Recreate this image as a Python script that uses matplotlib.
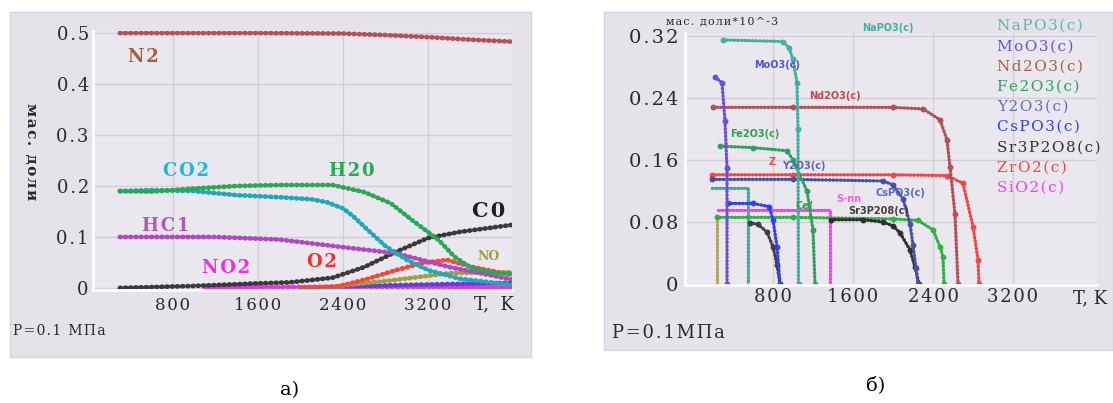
import matplotlib
matplotlib.use("Agg")
import matplotlib.pyplot as plt
from matplotlib.patches import Rectangle

# ---- panel a) : gas phase, mass fractions ----
t_n2 = [300, 800, 1600, 2400, 2800, 3200, 3600, 4000]
n2 = [0.5, 0.5, 0.5, 0.499, 0.496, 0.492, 0.487, 0.483]
t_co2 = [300, 600, 1000, 1400, 1800, 2100, 2250, 2400, 2500, 2600, 2800, 3000, 3200, 3500, 4000]
co2 = [0.19, 0.192, 0.19, 0.182, 0.178, 0.174, 0.168, 0.156, 0.14, 0.12, 0.082, 0.055, 0.035, 0.018, 0.006]
t_h2o = [300, 600, 1000, 1400, 1800, 2300, 2600, 2850, 3050, 3300, 3450, 3600, 3800, 4000]
h2o = [0.19, 0.189, 0.195, 0.2, 0.202, 0.202, 0.188, 0.166, 0.133, 0.094, 0.061, 0.04, 0.03, 0.028]
t_hcl = [300, 1200, 1800, 2400, 2900, 3400, 4000]
hcl = [0.1, 0.1, 0.095, 0.08, 0.068, 0.041, 0.016]
t_co = [300, 1000, 1600, 1900, 2300, 2600, 2900, 3200, 3500, 4000]
co = [0.0, 0.004, 0.009, 0.011, 0.02, 0.041, 0.071, 0.098, 0.11, 0.124]
t_o2 = [2000, 2350, 2600, 2900, 3150, 3380, 3620, 4000]
o2 = [0.0, 0.003, 0.016, 0.035, 0.049, 0.055, 0.041, 0.025]
t_no = [2200, 2450, 2900, 3400, 4000]
no = [0.0, 0.006, 0.016, 0.029, 0.031]
t_no2 = [1100, 2000, 3000, 4000]
no2 = [0.001, 0.002, 0.002, 0.001]
t_extra = [2400, 3000, 3500, 4000]
extra = [0.003, 0.006, 0.008, 0.01]

left_yticks = [0, 0.1, 0.2, 0.3, 0.4, 0.5]
left_ylabels = ["0", "0.1", "0.2", "0.3", "0.4", "0.5"]
xticks = [800, 1600, 2400, 3200]
xlabels = ["800", "1600", "2400", "3200"]

# ---- panel б) : condensed phases, mass fractions * 10^-3 ----
t_napo3 = [300, 900, 960, 1000, 1040, 1050, 1055]
napo3 = [0.315, 0.313, 0.305, 0.29, 0.26, 0.2, 0.0]
t_moo3 = [220, 290, 320, 340, 340]
moo3 = [0.267, 0.26, 0.21, 0.15, 0.0]
t_nd2o3 = [200, 1000, 2000, 2300, 2470, 2540, 2570, 2620, 2650]
nd2o3 = [0.228, 0.228, 0.228, 0.226, 0.212, 0.186, 0.151, 0.09, 0.0]
t_fe2o3 = [270, 600, 940, 1000, 1140, 1200, 1220]
fe2o3 = [0.178, 0.176, 0.172, 0.16, 0.12, 0.07, 0.0]
t_y2o3 = [190, 1000, 1900, 2000, 2100, 2170, 2200, 2230, 2250]
y2o3 = [0.135, 0.135, 0.133, 0.128, 0.11, 0.078, 0.05, 0.02, 0.0]
t_cspo3 = [350, 600, 760, 800, 840, 870]
cspo3 = [0.104, 0.104, 0.1, 0.083, 0.048, 0.0]
t_sr = [1380, 1700, 1900, 2000, 2070, 2170, 2220, 2260]
sr3p2o8 = [0.083, 0.083, 0.08, 0.075, 0.066, 0.044, 0.022, 0.0]
t_zro2 = [190, 1000, 2000, 2540, 2700, 2800, 2850, 2860]
zro2 = [0.141, 0.141, 0.141, 0.14, 0.13, 0.074, 0.031, 0.0]
t_sio2 = [250, 800, 1370, 1370]
sio2 = [0.095, 0.095, 0.095, 0.0]
t_green2 = [240, 1000, 2000, 2250, 2400, 2470, 2500, 2510]
green2 = [0.086, 0.086, 0.084, 0.082, 0.07, 0.048, 0.035, 0.0]
t_grey2 = [570, 650, 740, 800, 840, 870]
grey2 = [0.079, 0.077, 0.067, 0.048, 0.025, 0.0]
t_teal2 = [190, 400, 550, 550]
teal2 = [0.124, 0.124, 0.124, 0.0]
t_olive = [240, 240]
olive = [0.086, 0.0]

right_yticks = [0, 0.08, 0.16, 0.24, 0.32]
right_ylabels = ["0", "0.08", "0.16", "0.24", "0.32"]
legend_names = ["NaPO3(c)", "MoO3(c)", "Nd2O3(c)", "Fe2O3(c)", "Y2O3(c)",
                "CsPO3(c)", "Sr3P2O8(c)", "ZrO2(c)", "SiO2(c)"]
legend_colors = ["#5ab8b0", "#6a50d8", "#a0604a", "#30a060", "#6070b8",
                 "#3040f0", "#303030", "#f04848", "#f040f0"]

W, H = 1113, 403
BG = "#e6e2ea"
SERIF = "DejaVu Serif"
TS = "\u200a"


def sp(s):
    return TS.join(s)


fig = plt.figure(figsize=(W / 100, H / 100), dpi=100)
fig.patch.set_facecolor("white")

# grey frames around both panels
fig.patches.append(Rectangle((10 / W, 1 - 357 / H), (531 - 10) / W, (357 - 12) / H,
                             transform=fig.transFigure, facecolor=BG, edgecolor="#d8d4dc", zorder=-10))
fig.patches.append(Rectangle((604 / W, 1 - 350 / H), (W - 604) / W, (350 - 12) / H,
                             transform=fig.transFigure, facecolor=BG, edgecolor="#d8d4dc", zorder=-10))


def style_axes(ax):
    ax.set_facecolor("#ebe7ee")
    for s in ["top", "right"]:
        ax.spines[s].set_visible(False)
    for s in ["left", "bottom"]:
        ax.spines[s].set_color("white")
        ax.spines[s].set_linewidth(2)
    ax.tick_params(length=0, colors="#2a2a2a")
    ax.grid(True, color="#d2ced6", lw=1)
    ax.set_axisbelow(True)


def bead(ax, x, y, c, lw=3.4, marker=None):
    ax.plot(x, y, color=c, lw=lw, linestyle=(0, (0.2, 0.9)), dash_capstyle="round",
            solid_capstyle="round")
    ax.plot(x, y, color=c, lw=lw * 0.45)
    if marker:
        ax.plot(x, y, "o", color=c, ms=3.2, lw=0)


# ---------- left panel ----------
ax1 = fig.add_axes([93 / W, 1 - 290 / H, (512 - 93) / W, (290 - 31) / H])
style_axes(ax1)
ax1.set_xlim(47, 3990)
ax1.set_ylim(-0.004, 0.504)
bead(ax1, t_no2, no2, "#f030e0")
bead(ax1, t_extra, extra, "#6040d0")
bead(ax1, t_no, no, "#a0a040")
bead(ax1, t_o2, o2, "#f04a3a")
bead(ax1, t_co, co, "#3a3a3a")
bead(ax1, t_hcl, hcl, "#b048c0")
bead(ax1, t_co2, co2, "#20a8b8")
bead(ax1, t_h2o, h2o, "#2aa855")
bead(ax1, t_n2, n2, "#b84e58")
ax1.set_yticks(left_yticks)
ax1.set_yticklabels([sp(s) for s in left_ylabels], fontfamily=SERIF, fontsize=13)
ax1.set_xticks(xticks)
ax1.set_xticklabels([sp(s) for s in xlabels], fontfamily=SERIF, fontsize=12)
ax1.tick_params(axis="y", pad=3)
ax1.tick_params(axis="x", pad=5)

lab = dict(fontfamily=SERIF, fontweight="bold", fontsize=13, ha="center", va="center")
fig.text(143 / W, 1 - 57 / H, sp("N2"), color="#a8603e", **lab)
fig.text(186 / W, 1 - 171 / H, sp("CO2"), color="#20b8d8", **lab)
fig.text(352 / W, 1 - 171 / H, sp("H20"), color="#2aa855", **lab)
fig.text(166 / W, 1 - 226 / H, sp("HC1"), color="#b058c0", **lab)
fig.text(226 / W, 1 - 268 / H, sp("NO2"), color="#f030e0", **lab)
fig.text(322 / W, 1 - 262 / H, sp("O2"), color="#f03030", **lab)
fig.text(489 / W, 1 - 211 / H, sp("C0"), color="#202020", fontfamily=SERIF,
         fontweight="bold", fontsize=15, ha="center", va="center")
fig.text(489 / W, 1 - 257 / H, "NO", color="#a0a040", fontfamily=SERIF,
         fontweight="bold", fontsize=9, ha="center", va="center")
fig.text(494 / W, 1 - 304 / H, "T,  K", color="#2a2a2a", fontfamily=SERIF,
         fontsize=13, ha="center", va="center")
fig.text(31 / W, 1 - 152 / H, sp("мас. доли"), color="#2a2a2a", fontfamily=SERIF,
         fontweight="bold", fontsize=11, rotation=-90, ha="center", va="center")
fig.text(13 / W, 1 - 331 / H, sp("P=0.1 МПа"), color="#2a2a2a", fontfamily=SERIF,
         fontsize=10, ha="left", va="center")
fig.text(290 / W, 1 - 390 / H, "а)", color="black", fontfamily=SERIF,
         fontsize=14, ha="center", va="center")

# ---------- right panel ----------
ax2 = fig.add_axes([685 / W, 1 - 285 / H, (1097 - 685) / W, (285 - 33) / H])
style_axes(ax2)
ax2.set_xlim(-80, 4040)
ax2.set_ylim(-0.0013, 0.324)
bead(ax2, t_olive, olive, "#b0a868", lw=2.4)
bead(ax2, t_teal2, teal2, "#40a8a0", lw=2.4)
bead(ax2, t_green2, green2, "#30b048", lw=2.4, marker=True)
bead(ax2, t_grey2, grey2, "#404040", lw=2.4, marker=True)
bead(ax2, t_sio2, sio2, legend_colors[8], lw=2.4)
bead(ax2, t_sr, sr3p2o8, legend_colors[6], lw=2.4, marker=True)
bead(ax2, t_cspo3, cspo3, legend_colors[5], lw=2.4, marker=True)
bead(ax2, t_zro2, zro2, legend_colors[7], lw=2.4, marker=True)
bead(ax2, t_y2o3, y2o3, "#4a50a0", lw=2.4, marker=True)
bead(ax2, t_fe2o3, fe2o3, legend_colors[3], lw=2.4, marker=True)
bead(ax2, t_nd2o3, nd2o3, "#b05058", lw=2.4, marker=True)
bead(ax2, t_moo3, moo3, legend_colors[1], lw=2.4, marker=True)
bead(ax2, t_napo3, napo3, "#40b0a0", lw=2.4, marker=True)
ax2.set_yticks(right_yticks)
ax2.set_yticklabels([sp(s) for s in right_ylabels], fontfamily=SERIF, fontsize=14)
ax2.set_xticks(xticks)
ax2.set_xticklabels([sp(s) for s in xlabels], fontfamily=SERIF, fontsize=13)
ax2.tick_params(axis="y", pad=5)
ax2.tick_params(axis="x", pad=2)

small = dict(fontfamily="DejaVu Sans", fontweight="bold", fontsize=7, ha="left", va="center")
fig.text(862 / W, 1 - 28 / H, "NaPO3(c)", color="#40b0a0", **small)
fig.text(754 / W, 1 - 65 / H, "MoO3(c)", color="#5050d8", **small)
fig.text(809 / W, 1 - 96 / H, "Nd2O3(c)", color="#c04848", **small)
fig.text(730 / W, 1 - 134 / H, "Fe2O3(c)", color="#30a050", **small)
fig.text(769 / W, 1 - 162 / H, "Z", color="#f04848", **small)
fig.text(782 / W, 1 - 166 / H, "Y2O3(c)", color="#5a66b0", **small)
fig.text(796 / W, 1 - 206 / H, "Ce(", color="#30a050", **small)
fig.text(836 / W, 1 - 199 / H, "S-nn", color="#f060e0", **small)
fig.text(875 / W, 1 - 193 / H, "CsPO3(c)", color="#5a66c0", **small)
fig.text(848 / W, 1 - 211 / H, "Sr3P208(c)", color="#404040", **small)

for i, (name, c) in enumerate(zip(legend_names, legend_colors)):
    fig.text(997 / W, 1 - (26 + 20.2 * i) / H, sp(name), color=c, fontfamily=SERIF,
             fontsize=11, ha="left", va="center")

fig.text(666 / W, 1 - 21 / H, sp("мас. доли*10^-3"), color="#2a2a2a", fontfamily=SERIF,
         fontsize=8, ha="left", va="center")
fig.text(1090 / W, 1 - 298 / H, "T, K", color="#2a2a2a", fontfamily=SERIF,
         fontsize=13, ha="center", va="center")
fig.text(612 / W, 1 - 333 / H, sp("P=0.1МПа"), color="#2a2a2a", fontfamily=SERIF,
         fontsize=13, ha="left", va="center")
fig.text(876 / W, 1 - 385 / H, "б)", color="black", fontfamily=SERIF,
         fontsize=14, ha="center", va="center")

fig.savefig("out.png", dpi=100)
